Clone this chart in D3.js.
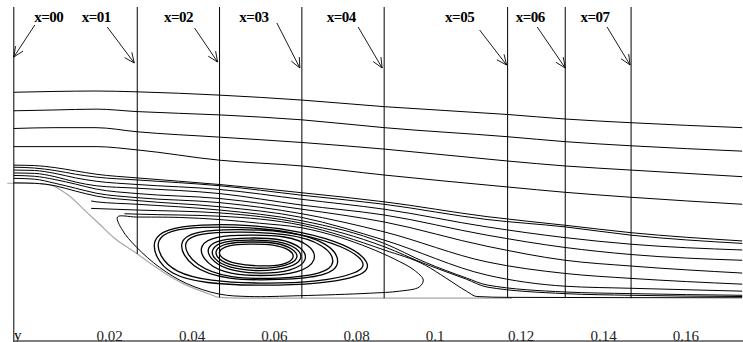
<!DOCTYPE html>
<html>
<head>
<meta charset="utf-8">
<script src="https://cdn.jsdelivr.net/npm/d3@7"></script>
<style>
  html, body { margin: 0; padding: 0; background: #fff; }
  figure { margin: 0; }
  svg { display: block; }
</style>
</head>
<body>
<figure id="graph"></figure>
<script>
// axis + stations
const xTicks = [0.02, 0.04, 0.06, 0.08, 0.1, 0.12, 0.14, 0.16];
const stations = [0, 0.03, 0.05, 0.07, 0.09, 0.12, 0.134, 0.15];
const stationNames = ['x=00', 'x=01', 'x=02', 'x=03', 'x=04', 'x=05', 'x=06', 'x=07'];

// step wall (x, y)
const wall = [[-0.0016, 0.0279], [0.0038, 0.0279], [0.0074, 0.0277], [0.0098, 0.0272], [0.0115, 0.0262],
  [0.0135, 0.0248], [0.0179, 0.0207], [0.0208, 0.0180], [0.0244, 0.0146], [0.0298, 0.0109],
  [0.0334, 0.0083], [0.0371, 0.0058], [0.0414, 0.0034], [0.0451, 0.0019], [0.0475, 0.0010],
  [0.0499, 0.0002], [0.0548, 0], [0.1211, 0]];

// outer streamlines
const freeX = [0, 0.01, 0.02, 0.03, 0.05, 0.07, 0.09, 0.12, 0.134, 0.15, 0.177];
const free1 = [0.0500, 0.0502, 0.0503, 0.0501, 0.0493, 0.0481, 0.0465, 0.0446, 0.0435, 0.0426, 0.0414];
const free2 = [0.0455, 0.0457, 0.0459, 0.0453, 0.0445, 0.0433, 0.0414, 0.0392, 0.0380, 0.0370, 0.0357];
const free3 = [0.0412, 0.0414, 0.0414, 0.0404, 0.0391, 0.0378, 0.0362, 0.0333, 0.0321, 0.0311, 0.0295];
const free4 = [0.0368, 0.0368, 0.0368, 0.0360, 0.0335, 0.0321, 0.0299, 0.0270, 0.0257, 0.0245, 0.0228];

// shear layer bundle
const bundleX = [0, 0.005, 0.01, 0.015, 0.02, 0.03, 0.05, 0.07, 0.09, 0.115, 0.134, 0.15, 0.177];
const bundle1 = [0.0323, 0.0322, 0.0317, 0.0309, 0.0301, 0.0292, 0.0276, 0.0256, 0.0234, 0.0198, 0.0177, 0.0159, 0.0139];
const bundle2 = [0.0318, 0.0316, 0.0310, 0.0301, 0.0294, 0.0287, 0.0273, 0.0250, 0.0228, 0.0191, 0.0173, 0.0153, 0.0133];
const bundle3 = [0.0311, 0.0310, 0.0303, 0.0292, 0.0284, 0.0276, 0.0264, 0.0240, 0.0216, 0.0173, 0.0147, 0.0131, 0.0117];
const bundle4 = [0.0304, 0.0303, 0.0295, 0.0282, 0.0273, 0.0267, 0.0254, 0.0226, 0.0202, 0.0153, 0.0123, 0.0106, 0.0092];
const bundle5 = [0.0298, 0.0296, 0.0288, 0.0277, 0.0265, 0.0254, 0.0242, 0.0216, 0.0185, 0.0126, 0.0092, 0.0078, 0.0061];
const bundle6 = [0.0291, 0.0289, 0.0279, 0.0267, 0.0255, 0.0244, 0.0232, 0.0205, 0.0161, 0.0088, 0.0060, 0.0048, 0.0034];
const bundle7 = [0.0280, 0.0279, 0.0273, 0.0260, 0.0248, 0.0237, 0.0222, 0.0196, 0.0141, 0.0056, 0.0029, 0.0024, 0.0017];

// lines seeded past the step
const seedAX = [0.0188, 0.02, 0.03, 0.05, 0.07, 0.09, 0.10, 0.11, 0.115, 0.134, 0.15, 0.177];
const seedAY = [0.0236, 0.0234, 0.0228, 0.0214, 0.0188, 0.0133, 0.0087, 0.0049, 0.0032, 0.0015, 0.0011, 0.0007];
const seedBX = [0.0188, 0.03, 0.05, 0.07, 0.09, 0.10, 0.11, 0.115, 0.134, 0.15, 0.177];
const seedBY = [0.0218, 0.0214, 0.0207, 0.0182, 0.0125, 0.0083, 0.0046, 0.0027, 0.0011, 0.0007, 0.0004];
const reattachX = [0.0269, 0.03, 0.05, 0.07, 0.09, 0.10, 0.105, 0.11, 0.1125, 0.12, 0.177];
const reattachY = [0.0205, 0.0204, 0.0199, 0.0177, 0.0117, 0.0080, 0.0049, 0.0017, 0.0004, 0.0002, 0.0001];

// recirculation loops (x, y), outer to inner
const loop0 = [[0.0252, 0.0197], [0.0298, 0.0197], [0.0402, 0.0196], [0.0499, 0.0191], [0.0597, 0.0182],
  [0.0699, 0.0171], [0.0791, 0.0148], [0.0864, 0.0122], [0.0925, 0.0095], [0.0973, 0.0068],
  [0.0995, 0.0044], [0.0985, 0.0027], [0.0937, 0.0017], [0.0864, 0.0012], [0.0694, 0.0006],
  [0.0572, 0.0004], [0.0499, 0.0010], [0.0419, 0.0036], [0.0354, 0.0075], [0.0298, 0.0124], [0.0264, 0.0165]];
const loop1b = [[0.0337, 0.0141], [0.0368, 0.0168], [0.0451, 0.0179], [0.0572, 0.0179], [0.0694, 0.0163],
  [0.0810, 0.0131], [0.0871, 0.0085], [0.0849, 0.0053], [0.0742, 0.0034], [0.0597, 0.0030],
  [0.0463, 0.0035], [0.0378, 0.0058], [0.0344, 0.0100]];
const loop1a = [[0.0346, 0.0141], [0.0378, 0.0165], [0.0451, 0.0173], [0.0572, 0.0173], [0.0694, 0.0158],
  [0.0803, 0.0126], [0.0859, 0.0087], [0.0840, 0.0061], [0.0742, 0.0039], [0.0597, 0.0035],
  [0.0475, 0.0041], [0.0390, 0.0063], [0.0354, 0.0102]];
const loop2b = [[0.0395, 0.0136], [0.0439, 0.0164], [0.0548, 0.0168], [0.0674, 0.0162], [0.0767, 0.0134],
  [0.0798, 0.0085], [0.0762, 0.0053], [0.0645, 0.0044], [0.0519, 0.0044], [0.0429, 0.0073]];
const loop2a = [[0.0405, 0.0134], [0.0446, 0.0158], [0.0548, 0.0162], [0.0670, 0.0157], [0.0755, 0.0131],
  [0.0786, 0.0087], [0.0752, 0.0058], [0.0645, 0.0047], [0.0524, 0.0047], [0.0439, 0.0078]];
const loop3 = [[0.0451, 0.0129], [0.0487, 0.0151], [0.0572, 0.0154], [0.0662, 0.0152], [0.0723, 0.0129],
  [0.0738, 0.0092], [0.0699, 0.0061], [0.0597, 0.0052], [0.0504, 0.0061], [0.0458, 0.0095]];
const core4 = [[0.0468, 0.0124], [0.0499, 0.0143], [0.0572, 0.0147], [0.0650, 0.0145], [0.0701, 0.0124],
  [0.0716, 0.0092], [0.0679, 0.0066], [0.0597, 0.0058], [0.0514, 0.0068], [0.0475, 0.0097]];
const core3 = [[0.0478, 0.0119], [0.0507, 0.0139], [0.0572, 0.0142], [0.0643, 0.0140], [0.0691, 0.0122],
  [0.0704, 0.0095], [0.0672, 0.0073], [0.0597, 0.0064], [0.0521, 0.0073], [0.0485, 0.0095]];
const core2 = [[0.0487, 0.0117], [0.0514, 0.0134], [0.0572, 0.0137], [0.0638, 0.0136], [0.0682, 0.0119],
  [0.0694, 0.0097], [0.0665, 0.0078], [0.0597, 0.0070], [0.0529, 0.0078], [0.0495, 0.0095]];
const core1 = [[0.0495, 0.0114], [0.0519, 0.0129], [0.0572, 0.0132], [0.0633, 0.0131], [0.0674, 0.0117],
  [0.0684, 0.0097], [0.0657, 0.0080], [0.0597, 0.0077], [0.0536, 0.0083], [0.0504, 0.0097]];

// label / arrow placement, px relative to each station line
const labelLayout = [
  { lx: 35, tx: 21, ty: 25, kx: 0, ky: 57 },
  { lx: -41, tx: -30, ty: 27, kx: -3, ky: 63 },
  { lx: -41, tx: -25, ty: 28, kx: -2, ky: 62 },
  { lx: -48, tx: -25, ty: 23, kx: -2, ky: 68 },
  { lx: -43, tx: -26, ty: 27, kx: -2, ky: 68 },
  { lx: -48, tx: -28, ty: 30, kx: -1, ky: 65 },
  { lx: -35, tx: -28, ty: 27, kx: 0, ky: 68 },
  { lx: -36, tx: -24, ty: 27, kx: -1, ky: 65 }
];

const width = 743;
const height = 342;
const yTop = 0.0707;

const xScale = d3.scaleLinear().domain([0, 0.1771]).range([13.8, 742.6]);
const yScale = d3.scaleLinear().domain([-0.0104, yTop]).range([341, 7]);

const svg = d3.select('figure#graph')
  .append('svg')
  .attr('width', width)
  .attr('height', height);

const zip = (xs, ys) => xs.map((x, i) => [x, ys[i]]);

const line = d3.line()
  .x(d => xScale(d[0]))
  .y(d => yScale(d[1]))
  .curve(d3.curveMonotoneX);

// outer separation loop keeps its sharp ends, inner eddies are smoothed
const outerLoopLine = d3.line()
  .x(d => xScale(d[0]))
  .y(d => yScale(d[1]))
  .curve(d3.curveCatmullRomClosed.alpha(0.5));

const eddyLine = d3.line()
  .x(d => xScale(d[0]))
  .y(d => yScale(d[1]))
  .curve(d3.curveBasisClosed);

// wall height at a given x, straight segments between wall points
const wallAt = d3.scaleLinear()
  .domain(wall.map(d => d[0]))
  .range(wall.map(d => d[1]))
  .clamp(true);

drawWall();
drawStreamlines();
drawStations();
drawAxis();

function drawWall() {
  svg.append('path')
    .datum(wall)
    .attr('fill', 'none')
    .attr('stroke', '#a8a8a8')
    .attr('stroke-width', 1.2)
    .attr('d', line);
}

function drawStreamlines() {
  const open = [
    zip(freeX, free1), zip(freeX, free2), zip(freeX, free3), zip(freeX, free4),
    zip(bundleX, bundle1), zip(bundleX, bundle2), zip(bundleX, bundle3), zip(bundleX, bundle4),
    zip(bundleX, bundle5), zip(bundleX, bundle6), zip(bundleX, bundle7),
    zip(seedAX, seedAY), zip(seedBX, seedBY), zip(reattachX, reattachY)
  ];
  svg.selectAll('.stream')
    .data(open)
    .join('path')
    .attr('class', 'stream')
    .attr('fill', 'none')
    .attr('stroke', '#000')
    .attr('stroke-width', 1)
    .attr('d', line);

  svg.append('path')
    .datum(loop0)
    .attr('fill', 'none')
    .attr('stroke', '#000')
    .attr('stroke-width', 1)
    .attr('d', outerLoopLine);

  const eddies = [loop1b, loop1a, loop2b, loop2a, loop3, core4, core3, core2, core1];
  svg.selectAll('.eddy')
    .data(eddies)
    .join('path')
    .attr('class', 'eddy')
    .attr('fill', 'none')
    .attr('stroke', '#000')
    .attr('stroke-width', 1.3)
    .attr('d', eddyLine);
}

function drawStations() {
  // left edge line runs down to the axis
  svg.append('line')
    .attr('x1', xScale(0)).attr('x2', xScale(0))
    .attr('y1', yScale(yTop)).attr('y2', height)
    .attr('stroke', '#000');

  svg.selectAll('.station')
    .data(stations.slice(1))
    .join('line')
    .attr('class', 'station')
    .attr('x1', d => xScale(d)).attr('x2', d => xScale(d))
    .attr('y1', yScale(yTop))
    .attr('y2', d => yScale(wallAt(d)))
    .attr('stroke', '#000');

  const g = svg.append('g').attr('class', 'labels');
  stations.forEach((s, i) => {
    const sx = xScale(s);
    const l = labelLayout[i];
    g.append('text')
      .attr('x', sx + l.lx)
      .attr('y', 22)
      .attr('text-anchor', 'middle')
      .style('font-family', '"Liberation Serif", "DejaVu Serif", serif')
      .style('font-weight', 'bold')
      .style('font-size', '15px')
      .style('letter-spacing', '-0.5px')
      .text(stationNames[i]);

    const x1 = sx + l.tx, y1 = l.ty, x2 = sx + l.kx, y2 = l.ky;
    const ang = Math.atan2(y2 - y1, x2 - x1);
    const head = 11, spread = 0.42;
    g.append('path')
      .attr('fill', 'none')
      .attr('stroke', '#000')
      .attr('stroke-width', 0.9)
      .attr('d', `M${x1},${y1}L${x2},${y2}` +
        `M${x2 - head * Math.cos(ang - spread)},${y2 - head * Math.sin(ang - spread)}L${x2},${y2}` +
        `L${x2 - head * Math.cos(ang + spread)},${y2 - head * Math.sin(ang + spread)}`);
  });
}

function drawAxis() {
  const axis = svg.append('g')
    .attr('transform', 'translate(0, 340.5)')
    .call(d3.axisTop(xScale)
      .tickValues(xTicks)
      .tickSize(0)
      .tickSizeOuter(0)
      .tickPadding(0)
      .tickFormat(d => `${d}`));

  axis.select('.domain').attr('stroke', '#000');
  axis.selectAll('text')
    .attr('text-anchor', 'start')
    .attr('fill', '#222')
    .style('font-family', '"Liberation Serif", serif')
    .style('font-size', '15px');

  svg.append('text')
    .attr('x', 14)
    .attr('y', 340)
    .style('font-family', '"Liberation Serif", serif')
    .style('font-size', '15px')
    .text('y');
}
</script>
</body>
</html>
